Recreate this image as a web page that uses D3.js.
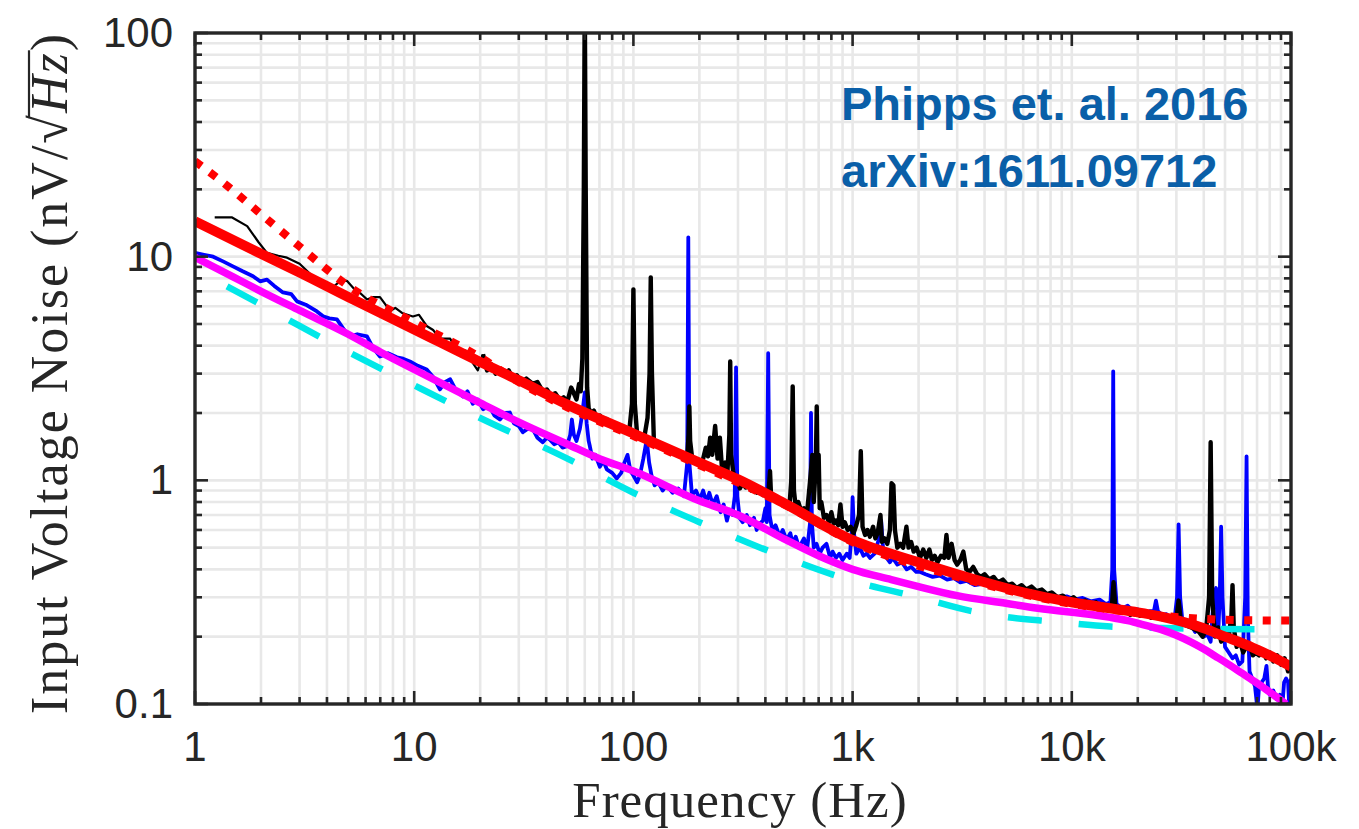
<!DOCTYPE html>
<html><head><meta charset="utf-8">
<script src="https://cdn.jsdelivr.net/npm/d3@7"></script>
<style>body{margin:0;background:#fff;}svg{display:block;}</style>
</head><body>
<svg id="chart" width="1359" height="829"></svg>
<script>
// ---------- data (frequency in Hz, noise in nV/sqrt(Hz)) ----------
const xTickValues = [1, 10, 100, 1000, 10000, 100000];
const xTickLabels = ["1", "10", "100", "1k", "10k", "100k"];
const yTickValues = [0.1, 1, 10, 100];
const yTickLabels = ["0.1", "1", "10", "100"];

const blackLowFreq = [[1.23,15.0],[1.47,15.0],[1.73,13.7],[1.95,11.6],[2.13,10.4],[2.4,10.1],[2.63,9.9],[3.0,9.3],[3.45,8.15],[3.9,7.6],[4.26,7.3],[4.6,7.8],[4.93,7.8],[5.3,7.2],[5.65,6.9],[6.09,6.44],[6.5,6.6],[6.98,6.6],[7.4,6.1],[7.74,5.7],[8.2,5.9],[8.8,5.6],[9.86,5.4],[10.5,5.5],[11.4,4.9],[12.2,4.7],[13.1,4.3],[14.6,4.3],[15.4,3.9],[16.2,3.73],[17.2,3.8],[18.3,3.4],[19.5,3.1],[20.6,3.66]];

const blackNoise = [[20.6,3.66],[21.5,3.1],[22.5,3.3],[23.5,3.0],[24.6,3.15],[25.8,2.95],[27,3.1],[28.2,2.85],[29.4,2.95],[31,2.75],[32.5,2.85],[34.8,2.7],[36.5,2.75],[38.6,2.5],[40.3,2.55],[42,2.4],[44,2.45],[46,2.3],[48,2.35],[50,2.25],[52,2.6],[53.5,2.45],[55,2.3],[56.5,2.7],[57.5,2.5],[58.5,3.5],[59.4,20],[60,150],[60.6,20],[61.5,2.6],[62.5,2.1],[64,2.0],[66,2.05],[68,1.9],[70.3,1.95],[73,1.85],[75.6,1.88],[78,1.8],[81,1.82],[84,1.74],[88,1.72],[92,1.66],[96,1.7],[98.5,2.2],[100,7.14],[101.5,2.2],[104,1.6],[108,1.58],[112,1.55],[116,1.9],[118.5,3.0],[120,8.08],[121.5,3.0],[124,1.5],[128,1.45],[132,1.4],[137,1.45],[142,1.38],[147,1.4],[152,1.34],[158,1.35],[164,1.3],[170,1.28],[176,1.25],[178.5,1.6],[180,2.14],[181.5,1.5],[186,1.22],[193,1.2],[201,1.16],[208,1.25],[214,1.4],[219,1.28],[224,1.55],[229,1.3],[236,1.75],[242,1.25],[248,1.55],[254,1.1],[262,1.2],[268,1.05],[274,1.6],[276.5,3.4],[279,1.3],[285,1.1],[292,0.98],[300,1.0],[306,0.92],[315,0.97],[325,0.93],[335,0.96],[345,0.9],[355,0.92],[366,0.88],[377,0.9],[390,0.86],[400,0.87],[412,0.84],[420,1.1],[425,0.83],[440,0.84],[455,0.8],[470,0.82],[485,0.78],[500,0.8],[515,0.76],[525,1.0],[533,2.63],[540,0.9],[550,0.76],[565,0.8],[580,0.74],[600,0.75],[620,0.72],[640,1.0],[655,1.3],[665,0.8],[680,1.2],[686,2.14],[692,1.0],[700,1.3],[708,0.75],[720,0.8],[740,0.68],[760,0.7],[780,0.65],[800,0.72],[820,0.64],[840,0.66],[860,0.63],[880,0.78],[900,0.62],[920,0.65],[950,0.6],[980,0.62],[1010,0.58],[1040,0.63],[1070,0.7],[1090,1.35],[1110,0.62],[1140,0.57],[1170,0.6],[1200,0.56],[1240,0.62],[1270,0.55],[1300,0.58],[1340,0.7],[1360,0.53],[1400,0.55],[1440,0.52],[1480,0.6],[1505,0.97],[1535,0.95],[1560,0.6],[1600,0.5],[1650,0.52],[1700,0.5],[1760,0.62],[1800,0.5],[1850,0.53],[1900,0.48],[1960,0.5],[2030,0.45],[2100,0.49],[2170,0.45],[2240,0.49],[2300,0.44],[2370,0.46],[2440,0.43],[2530,0.46],[2620,0.45],[2680,0.57],[2740,0.45],[2830,0.52],[2920,0.44],[3000,0.42],[3100,0.44],[3200,0.48],[3300,0.4],[3420,0.39],[3550,0.41],[3700,0.38],[3850,0.37],[4000,0.38],[4200,0.36],[4400,0.37],[4600,0.35],[4850,0.36],[5100,0.34],[5350,0.345],[5600,0.33],[5900,0.34],[6200,0.325],[6550,0.335],[6900,0.32],[7300,0.325],[7700,0.31],[8100,0.315],[8600,0.3],[9100,0.305],[9600,0.29],[10200,0.3],[10800,0.285],[11500,0.29],[12200,0.277],[12900,0.285],[13700,0.27],[14500,0.275],[15200,0.265],[15500,0.35],[15800,0.27],[16600,0.26],[17500,0.265],[18500,0.25],[19500,0.258],[20500,0.248],[21700,0.255],[23000,0.243],[24300,0.25],[25700,0.24],[27000,0.245],[28500,0.235],[30000,0.24],[30700,0.29],[31500,0.23],[33000,0.225],[35000,0.22],[36500,0.215],[38000,0.21],[39500,0.2],[41000,0.215],[42300,0.3],[43000,1.48],[43700,0.3],[45000,0.2],[46500,0.22],[48000,0.19],[50000,0.2],[52000,0.2],[53500,0.25],[54100,0.34],[54800,0.22],[56500,0.18],[58500,0.19],[60500,0.17],[62500,0.18],[64700,0.185],[67000,0.165],[69000,0.17],[71500,0.165],[74000,0.175],[77000,0.16],[80000,0.17],[83000,0.155],[86500,0.165],[90000,0.15],[93500,0.16],[97000,0.14],[100000,0.155]];

const blueNoise = [[1,10.4],[1.1,10.2],[1.21,10.0],[1.35,9.5],[1.49,9.05],[1.65,8.6],[1.84,8.17],[1.98,7.76],[2.13,7.9],[2.3,7.4],[2.52,6.92],[2.75,6.8],[2.92,6.31],[3.2,6.1],[3.6,5.69],[3.84,5.41],[4.1,5.3],[4.44,5.24],[4.8,4.7],[5.09,4.4],[5.5,4.5],[6.09,4.4],[6.5,3.9],[6.98,3.58],[7.6,3.7],[8.34,3.55],[8.9,3.5],[9.56,3.4],[10.4,3.25],[11.4,3.13],[12.2,2.9],[13.1,2.55],[13.8,2.75],[14.6,2.83],[15.6,2.5],[16.7,2.37],[17.5,2.5],[18.5,2.2],[19.5,2.3],[20.6,2.08],[22,2.15],[23.2,1.95],[24.6,1.87],[26,2.0],[27.3,2.01],[28.5,1.8],[30,1.75],[31.3,1.64],[33,1.7],[34.8,1.69],[36.5,1.55],[38.6,1.48],[40.3,1.55],[41.6,1.52],[43.5,1.45],[45.5,1.48],[47.5,1.4],[49.7,1.42],[51.5,1.6],[52.4,1.87],[53.5,1.6],[55,1.5],[57,1.7],[58.5,2.0],[60,2.47],[61.2,1.8],[62.5,1.5],[63.3,1.42],[65,1.25],[67,1.3],[70.3,1.15],[73,1.22],[75.6,1.12],[80,1.08],[84,1.02],[88,1.08],[91,1.2],[94,1.3],[97,1.1],[100,1.05],[104,0.98],[107,1.05],[111,1.25],[115,1.52],[118,1.2],[121,1.05],[125,0.95],[130,0.98],[136,0.9],[142,0.95],[151,0.88],[160,0.92],[170,0.85],[176,1.2],[178,12.2],[180,1.2],[185,0.86],[193,0.9],[201,0.82],[208,0.9],[215,0.8],[222,0.88],[230,0.78],[240,0.85],[250,0.72],[258,0.78],[267,0.66],[275,0.74],[283,0.7],[290,0.85],[294,3.2],[298,0.85],[305,0.68],[315,0.65],[329,0.7],[340,0.63],[355,0.68],[365,0.6],[377,0.64],[390,0.66],[400,0.75],[406,0.65],[412,3.7],[418,0.7],[430,0.6],[445,0.63],[465,0.56],[480,0.6],[500,0.54],[520,0.58],[533,0.52],[550,0.56],[570,0.5],[600,0.55],[620,0.49],[640,0.65],[646,2.0],[652,0.65],[665,0.5],[685,0.52],[708,0.47],[730,0.5],[760,0.52],[790,0.45],[811,0.48],[840,0.45],[870,0.47],[900,0.44],[940,0.47],[970,0.45],[990,0.58],[1000,0.84],[1015,0.58],[1040,0.47],[1080,0.5],[1120,0.46],[1160,0.47],[1200,0.45],[1260,0.47],[1320,0.55],[1350,0.66],[1380,0.48],[1430,0.45],[1480,0.43],[1524,0.45],[1600,0.42],[1680,0.43],[1766,0.4],[1850,0.41],[1950,0.39],[2023,0.39],[2150,0.38],[2319,0.37],[2500,0.375],[2700,0.36],[2900,0.365],[3100,0.35],[3313,0.355],[3600,0.34],[4000,0.345],[4350,0.33],[4688,0.335],[5100,0.32],[5600,0.325],[6100,0.31],[6625,0.315],[7200,0.305],[8000,0.31],[8700,0.3],[9470,0.303],[10300,0.293],[11200,0.298],[12200,0.288],[13390,0.293],[14300,0.28],[15000,0.285],[15300,0.4],[15450,3.07],[15600,0.4],[16000,0.28],[17000,0.268],[18000,0.275],[18930,0.262],[20000,0.265],[21300,0.255],[22630,0.26],[23700,0.26],[24200,0.29],[24700,0.26],[25800,0.25],[27040,0.252],[28300,0.24],[29500,0.245],[30200,0.3],[30700,0.636],[31200,0.3],[32000,0.232],[33500,0.225],[35000,0.228],[36500,0.21],[38270,0.215],[40000,0.2],[41500,0.205],[43000,0.19],[44500,0.31],[45500,0.33],[46500,0.2],[47300,0.3],[48000,0.62],[48700,0.3],[50000,0.18],[52000,0.17],[54080,0.16],[56000,0.165],[58000,0.15],[60000,0.155],[61800,0.3],[62700,1.28],[63500,0.25],[64680,0.14],[66500,0.13],[68500,0.12],[70300,0.095],[71500,0.12],[73500,0.125],[75500,0.13],[77300,0.148],[78500,0.12],[80000,0.11],[83000,0.115],[86000,0.105],[89000,0.11],[91470,0.1],[93000,0.125],[95000,0.13],[97000,0.125],[98500,0.09],[100000,0.13]];

const redFit = [[1,14.4],[2,10.3],[3,8.5],[5,6.6],[10,4.73],[20,3.38],[30,2.8],[50,2.18],[100,1.62],[200,1.2],[300,1.01],[500,0.78],[1000,0.54],[2000,0.43],[3000,0.38],[5000,0.33],[7000,0.305],[10000,0.285],[15000,0.268],[20000,0.257],[25000,0.247],[30000,0.237],[40000,0.218],[50000,0.2],[60000,0.187],[70000,0.175],[85000,0.16],[100000,0.147]];

const redDottedModel = [[1,26.7],[1.34,21.5],[2,15.5],[3,11.1],[5,7.4],[10,5.08],[20,3.55],[30,2.75],[50,2.12],[100,1.58],[200,1.17],[500,0.77],[1000,0.53],[3000,0.37],[10000,0.28],[20000,0.255],[30000,0.245],[50000,0.238],[100000,0.236]];

const magentaFit = [[1,9.93],[1.5,8.1],[2,7.0],[3,5.75],[5,4.5],[7,3.75],[10,3.13],[20,2.22],[30,1.82],[50,1.45],[70,1.25],[100,1.1],[200,0.81],[300,0.7],[500,0.54],[700,0.46],[1000,0.40],[1500,0.36],[2000,0.335],[3000,0.305],[5000,0.282],[7000,0.268],[10000,0.257],[12000,0.252],[15000,0.244],[18000,0.236],[22000,0.224],[26000,0.214],[30000,0.203],[35000,0.189],[40000,0.176],[45000,0.164],[50000,0.154],[60000,0.137],[70000,0.124],[80000,0.113],[90000,0.104],[95000,0.1]];

const cyanModel = [[1.4,7.37],[2,6.1],[3,4.9],[5,3.75],[10,2.66],[20,1.9],[50,1.25],[100,0.88],[200,0.65],[500,0.45],[1000,0.355],[2000,0.30],[3500,0.26],[5000,0.245],[8000,0.234],[15000,0.222],[30000,0.218],[75000,0.216]];

// ---------- layout ----------
const svg = d3.select("#chart");
const L = 195, R = 1291, T = 33, B = 704;
const x = d3.scaleLog().domain([1, 1e5]).range([L, R]);
const y = d3.scaleLog().domain([0.1, 100]).range([B, T]);
const axisColor = "#262626";

svg.append("defs").append("clipPath").attr("id", "plotClip")
  .append("rect").attr("x", L).attr("y", T).attr("width", R - L).attr("height", B - T);

// grid
const xGridVals = x.ticks();
const yGridVals = y.ticks();
const grid = svg.append("g").attr("stroke", "#e8e8e8").attr("stroke-width", 2.6);
grid.selectAll(".gx").data(xGridVals).enter().append("line")
  .attr("x1", d => x(d)).attr("x2", d => x(d)).attr("y1", T).attr("y2", B);
grid.selectAll(".gy").data(yGridVals).enter().append("line")
  .attr("y1", d => y(d)).attr("y2", d => y(d)).attr("x1", L).attr("x2", R);

// data lines
const line = d3.line().x(d => x(d[0])).y(d => y(d[1]));
const smooth = d3.line().x(d => x(d[0])).y(d => y(d[1])).curve(d3.curveMonotoneX);
const plot = svg.append("g").attr("clip-path", "url(#plotClip)")
  .attr("fill", "none").attr("stroke-linejoin", "round");

plot.append("path").attr("d", line(blueNoise)).attr("stroke", "#0000ff").attr("stroke-width", 3.8);
plot.append("path").attr("d", line(blackLowFreq)).attr("stroke", "#000").attr("stroke-width", 2.2);
plot.append("path").attr("d", line(blackNoise)).attr("stroke", "#000").attr("stroke-width", 4.4);
plot.append("path").attr("d", smooth(cyanModel)).attr("stroke", "#00e8e8").attr("stroke-width", 6.5)
  .attr("stroke-dasharray", "34,37").attr("stroke-linecap", "butt");
plot.append("path").attr("d", smooth(redDottedModel)).attr("stroke", "#ff0000").attr("stroke-width", 8)
  .attr("stroke-dasharray", "8,10.5").attr("stroke-linecap", "butt");
plot.append("path").attr("d", smooth(magentaFit)).attr("stroke", "#ff00ff").attr("stroke-width", 7.5);
plot.append("path").attr("d", smooth(redFit)).attr("stroke", "#ff0000").attr("stroke-width", 10);

// frame and ticks
const axesG = svg.append("g").attr("stroke", axisColor).attr("stroke-width", 2.6);
const isMajor = v => Math.abs(Math.log10(v) - Math.round(Math.log10(v))) < 1e-9;
xGridVals.forEach(v => {
  const len = isMajor(v) ? 13 : 7;
  axesG.append("line").attr("x1", x(v)).attr("x2", x(v)).attr("y1", B).attr("y2", B - len);
  axesG.append("line").attr("x1", x(v)).attr("x2", x(v)).attr("y1", T).attr("y2", T + len);
});
yGridVals.forEach(v => {
  const len = isMajor(v) ? 13 : 7;
  axesG.append("line").attr("y1", y(v)).attr("y2", y(v)).attr("x1", L).attr("x2", L + len);
  axesG.append("line").attr("y1", y(v)).attr("y2", y(v)).attr("x1", R).attr("x2", R - len);
});
svg.append("rect").attr("x", L).attr("y", T).attr("width", R - L).attr("height", B - T)
  .attr("fill", "none").attr("stroke", axisColor).attr("stroke-width", 3.4);

// tick labels
const tickFont = "'Liberation Sans', Arial, Helvetica, sans-serif";
svg.append("g").selectAll("text").data(xTickValues).enter().append("text")
  .attr("x", d => x(d)).attr("y", 761).attr("text-anchor", "middle")
  .attr("font-family", tickFont).attr("font-size", 42).attr("fill", axisColor)
  .text((d, i) => xTickLabels[i]);
svg.append("g").selectAll("text").data(yTickValues).enter().append("text")
  .attr("x", 173).attr("y", d => y(d) + 14).attr("text-anchor", "end")
  .attr("font-family", tickFont).attr("font-size", 42).attr("fill", axisColor)
  .text((d, i) => yTickLabels[i]);

// axis titles
const serif = "'Liberation Serif', 'Times New Roman', serif";
svg.append("text").attr("x", 740).attr("y", 817).attr("text-anchor", "middle")
  .attr("font-family", serif).attr("font-size", 51).attr("letter-spacing", 1)
  .attr("fill", axisColor).text("Frequency (Hz)");

const ylG = svg.append("g").attr("transform", "translate(67,373) rotate(-90)");
const yl = ylG.append("text").attr("x", 0).attr("y", 0)
  .attr("text-anchor", "middle").attr("font-family", serif).attr("font-size", 52)
  .attr("letter-spacing", 2).attr("fill", axisColor);
yl.append("tspan").text("Input Voltage Noise (nV/");
yl.append("tspan").text("\u221A");
yl.append("tspan").attr("font-style", "italic").text("Hz");
yl.append("tspan").text(")");
// radical bar over "Hz"
const ylNode = yl.node();
const full = "Input Voltage Noise (nV/\u221AHz)";
const iRad = full.indexOf("\u221A");
try {
  const radEnd = ylNode.getEndPositionOfChar(iRad).x - 2;
  const zEnd = ylNode.getEndPositionOfChar(iRad + 2).x;
  ylG.append("line").attr("x1", radEnd - 3).attr("x2", zEnd + 1)
    .attr("y1", -38).attr("y2", -38)
    .attr("stroke", axisColor).attr("stroke-width", 2.2);
} catch (e) {}

// annotation
const annFont = "'Liberation Sans', Arial, Helvetica, sans-serif";
svg.append("text").attr("x", 841).attr("y", 120).attr("font-family", annFont)
  .attr("font-weight", "bold").attr("font-size", 47).attr("fill", "#0a5fa8").text("Phipps et. al. 2016");
svg.append("text").attr("x", 841).attr("y", 187).attr("font-family", annFont)
  .attr("font-weight", "bold").attr("font-size", 47).attr("fill", "#0a5fa8").text("arXiv:1611.09712");
</script>
</body></html>
